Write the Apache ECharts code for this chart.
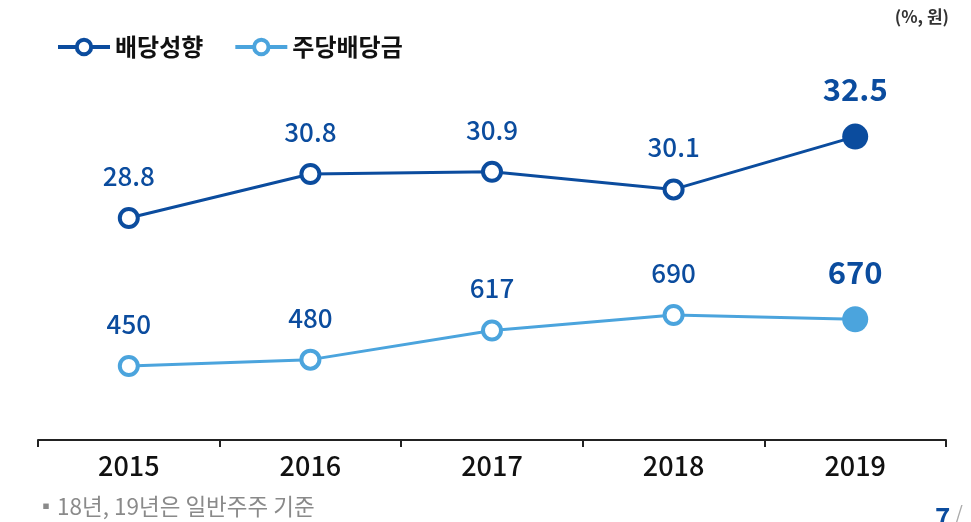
<!DOCTYPE html>
<html>
<head>
<meta charset="utf-8">
<script src="https://cdn.jsdelivr.net/npm/echarts@6/dist/echarts.min.js"></script>
<style>
  html, body { margin: 0; padding: 0; background: #fff; }
  #chart { width: 971px; height: 522px; }
</style>
</head>
<body>
<div id="chart"></div>
<script>
const years = ['2015', '2016', '2017', '2018', '2019']
const payoutRatio = [28.8, 30.8, 30.9, 30.1, 32.5]
const dividendPerShare = [450, 480, 617, 690, 670]

const dark = '#0b4c9e'
const light = '#4ba4dd'
const font = "'Noto Sans CJK KR', 'Noto Sans', sans-serif"

// 마지막 점은 꽉 찬 큰 원 + 굵은 라벨
const toData = (arr, color) => arr.map((v, i) => {
  if (i < arr.length - 1) return v
  return {
    value: v,
    symbolSize: 26,
    itemStyle: { color: color, borderColor: color, borderWidth: 0 },
    label: { fontSize: 31, fontWeight: 'bold', distance: 19 }
  }
})

const chart = echarts.init(document.getElementById('chart'))

const mkSeries = (name, axis, arr, color) => ({
  name: name,
  type: 'line',
  yAxisIndex: axis,
  data: toData(arr, color),
  symbol: 'circle',
  symbolSize: 18,
  lineStyle: { color: color, width: 3 },
  itemStyle: { color: '#fff', borderColor: color, borderWidth: 4 },
  label: { show: true, position: 'top', distance: 18, fontSize: 26, fontWeight: 500, color: dark },
  emphasis: { disabled: true }
})

const option = {
  animation: false,
  textStyle: { fontFamily: font },
  legend: {
    left: 51,
    top: 30,
    itemWidth: 52,
    itemHeight: 18,
    itemGap: 30,
    lineStyle: { width: 4 },
    itemStyle: { borderWidth: 4 },
    textStyle: { fontSize: 24, fontWeight: 'bold', color: '#111', fontFamily: font },
    data: ['배당성향', '주당배당금']
  },
  grid: { left: 38, right: 25, top: 100, bottom: 82 },
  xAxis: {
    type: 'category',
    data: years,
    boundaryGap: true,
    axisLine: { lineStyle: { color: '#222', width: 2 } },
    axisTick: { show: true, length: 7, lineStyle: { color: '#222', width: 2 } },
    axisLabel: { fontSize: 27, fontWeight: 500, color: '#111', margin: 12 }
  },
  yAxis: [
    { type: 'value', min: 18.709, max: 34.164, show: false },
    { type: 'value', min: 101.8, max: 1701.8, show: false }
  ],
  series: [
    mkSeries('배당성향', 0, payoutRatio, dark),
    mkSeries('주당배당금', 1, dividendPerShare, light)
  ],
  graphic: [
    {
      type: 'text', right: 22, top: 8,
      style: { text: '(%, 원)', font: "bold 17px " + font, fill: '#333' }
    },
    {
      type: 'text', left: 36, top: 496,
      style: { text: '▪', font: "20px " + font, fill: '#8a8a8a' }
    },
    {
      type: 'text', left: 57, top: 495,
      style: { text: '18년, 19년은 일반주주 기준', font: "22.5px " + font, fill: '#8a8a8a' }
    },
    {
      type: 'text', left: 935, top: 504,
      style: { text: '7', font: "bold 26px " + font, fill: dark }
    },
    {
      type: 'text', left: 955, top: 503,
      style: { text: '/', font: "20px " + font, fill: '#aaa' }
    }
  ]
}

chart.setOption(option)
</script>
</body>
</html>
